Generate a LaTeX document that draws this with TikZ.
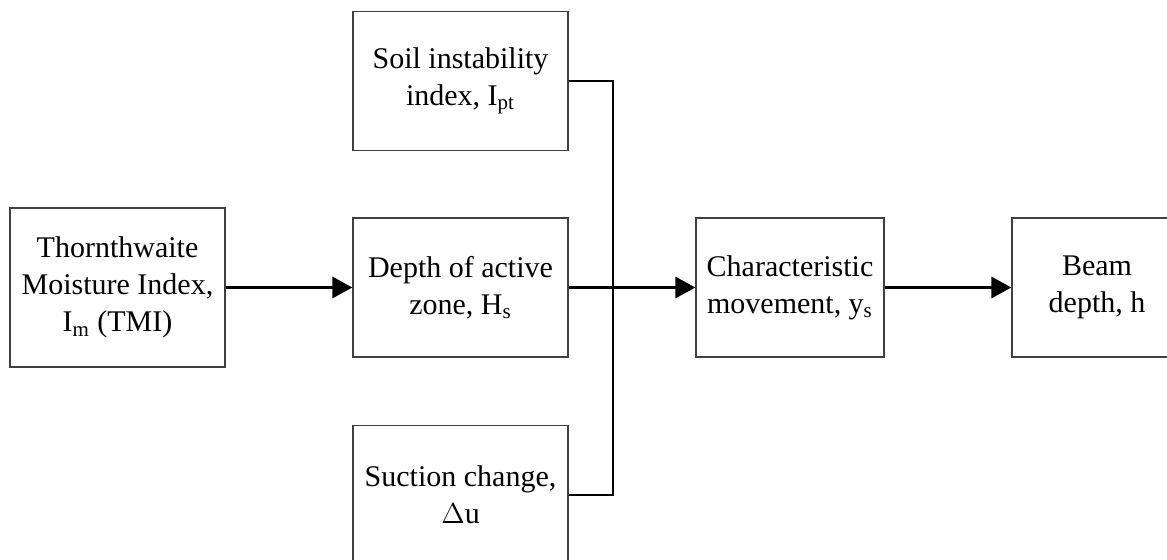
\documentclass[tikz,border=0pt]{standalone}
\usepackage{fontspec}
\setmainfont{Liberation Serif}
\usetikzlibrary{arrows.meta}

\begin{document}
\begin{tikzpicture}[
  x=0.5pt, y=-0.5pt,
  box/.style={rectangle, draw=black!75, line width=0.6pt, align=center, inner sep=0pt,
    minimum width=107.5pt, minimum height=69.5pt, font=\fontsize{15}{18.5}\selectfont},
  narrowbox/.style={box, minimum width=94pt},
  link/.style={line width=1.4pt, draw=black},
  flow/.style={link, -{Triangle[length=10pt,width=10.5pt]}}
]
  \clip (0,0) rectangle (1167,560);

  % Eingangsgroessen
  \node[box, minimum height=79.5pt] (tmi) at (117.5,287.5) {Thornthwaite\\Moisture Index,\\I\textsubscript{m} (TMI)};
  \node[box] (ipt) at (460.5,81)    {Soil instability\\index, I\textsubscript{pt}};
  \node[box] (hs)  at (460.5,287.5) {Depth of active\\zone, H\textsubscript{s}};
  \node[box] (du)  at (460.5,495)   {Suction change,\\$\Delta$u};

  % Ergebnisse
  \node[narrowbox] (ys) at (790,287.5)  {Characteristic\\movement, y\textsubscript{s}};
  \node[narrowbox, minimum width=85pt] (h) at (1097,287.5) {Beam\\depth, h};

  % Sammelschiene
  \coordinate (jn) at (613,287.5);
  \draw[link] (ipt.east) -| (jn) |- (du.east);

  \draw[flow] (tmi.east) -- (hs.west);
  \draw[flow] (hs.east) -- (ys.west);
  \draw[flow] (ys.east) -- (h.west);
\end{tikzpicture}
\end{document}
